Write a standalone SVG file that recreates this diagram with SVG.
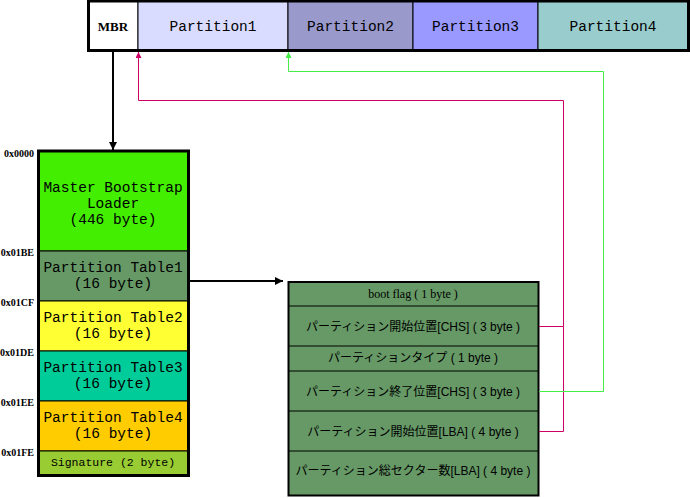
<svg xmlns="http://www.w3.org/2000/svg" width="690" height="498" viewBox="0 0 690 498">
<style>
.mono{font-family:"Liberation Mono","Courier New",monospace;font-size:14.5px;fill:#000;text-anchor:middle}
.sig{font-family:"Liberation Mono","Courier New",monospace;font-size:11.5px;fill:#000;text-anchor:middle}
.addr{font-family:"Liberation Serif","Times New Roman",serif;font-size:10px;font-weight:bold;fill:#000;text-anchor:end}
.jp{font-family:"Liberation Sans","Noto Sans CJK JP",sans-serif;font-size:12px;fill:#000;text-anchor:middle}
.cell{stroke:#000;stroke-width:1}
.out{fill:none;stroke:#000;stroke-width:3}
.pink{fill:none;stroke:#CC0066;stroke-width:1}
.green{fill:none;stroke:#44EE44;stroke-width:1}
</style>
<defs>
<marker id="ab" markerWidth="8" markerHeight="8" refX="8" refY="4" orient="auto" markerUnits="userSpaceOnUse"><path d="M0,0 L8,4 L0,8 Z" fill="#000"/></marker>
<marker id="ap" markerWidth="6" markerHeight="6" refX="6" refY="3" orient="auto" markerUnits="userSpaceOnUse"><path d="M0,0 L6,3 L0,6 Z" fill="#CC0066"/></marker>
<marker id="ag" markerWidth="6" markerHeight="6" refX="6" refY="3" orient="auto" markerUnits="userSpaceOnUse"><path d="M0,0 L6,3 L0,6 Z" fill="#44EE44"/></marker>
</defs>

<g id="disk">
<rect x="88" y="1" width="50" height="49" fill="#FFFFFF" class="cell"/>
<rect x="138" y="1" width="150" height="49" fill="#DADCFF" class="cell"/>
<rect x="288" y="1" width="125" height="49" fill="#9999CC" class="cell"/>
<rect x="413" y="1" width="125" height="49" fill="#9999FF" class="cell"/>
<rect x="538" y="1" width="150" height="49" fill="#99CCCC" class="cell"/>
<rect x="88.5" y="1" width="600" height="49.5" class="out"/>
<text x="113" y="31" font-family="Liberation Serif,Times New Roman,serif" font-size="13" font-weight="bold" text-anchor="middle">MBR</text>
<text class="mono" x="213" y="31">Partition1</text>
<text class="mono" x="350.5" y="31">Partition2</text>
<text class="mono" x="475.5" y="31">Partition3</text>
<text class="mono" x="613" y="31">Partition4</text>
</g>

<g id="mbr-stack">
<rect x="38" y="151" width="150" height="100" fill="#44EE00" class="cell"/>
<rect x="38" y="251" width="150" height="50" fill="#669966" class="cell"/>
<rect x="38" y="301" width="150" height="50" fill="#FFFF33" class="cell"/>
<rect x="38" y="351" width="150" height="50" fill="#00CC99" class="cell"/>
<rect x="38" y="401" width="150" height="50" fill="#FFCC00" class="cell"/>
<rect x="38" y="451" width="150" height="25" fill="#99CC33" class="cell"/>
<rect x="38.5" y="151" width="150" height="324.5" class="out"/>
<text class="mono" x="113" y="192">Master Bootstrap</text>
<text class="mono" x="113" y="208">Loader</text>
<text class="mono" x="113" y="224">(446 byte)</text>
<text class="mono" x="113" y="272">Partition Table1</text>
<text class="mono" x="113" y="288">(16 byte)</text>
<text class="mono" x="113" y="322">Partition Table2</text>
<text class="mono" x="113" y="338">(16 byte)</text>
<text class="mono" x="113" y="372">Partition Table3</text>
<text class="mono" x="113" y="388">(16 byte)</text>
<text class="mono" x="113" y="422">Partition Table4</text>
<text class="mono" x="113" y="438">(16 byte)</text>
<text class="sig" x="113" y="466">Signature (2 byte)</text>
<text class="addr" x="34" y="157">0x0000</text>
<text class="addr" x="34" y="256">0x01BE</text>
<text class="addr" x="34" y="306">0x01CF</text>
<text class="addr" x="34" y="356">0x01DE</text>
<text class="addr" x="34" y="406">0x01EE</text>
<text class="addr" x="34" y="456">0x01FE</text>
</g>

<g id="entry">
<rect x="288" y="282" width="250" height="214" fill="#669966" stroke="none"/>
<line x1="288" y1="306" x2="538" y2="306" stroke="#000"/>
<line x1="288" y1="346" x2="538" y2="346" stroke="#000"/>
<line x1="288" y1="371" x2="538" y2="371" stroke="#000"/>
<line x1="288" y1="411" x2="538" y2="411" stroke="#000"/>
<line x1="288" y1="451" x2="538" y2="451" stroke="#000"/>
<rect x="288.5" y="282" width="250" height="213.5" fill="none" stroke="#000" stroke-width="2"/>
<text x="413" y="298" font-family="Liberation Serif,Times New Roman,serif" font-size="12" text-anchor="middle">boot flag ( 1 byte )</text>
<text class="jp" x="413" y="331">パーティション開始位置[CHS] ( 3 byte )</text>
<text class="jp" x="413" y="362">パーティションタイプ ( 1 byte )</text>
<text class="jp" x="413" y="396">パーティション終了位置[CHS] ( 3 byte )</text>
<text class="jp" x="413" y="436">パーティション開始位置[LBA] ( 4 byte )</text>
<text class="jp" x="413" y="475">パーティション総セクター数[LBA] ( 4 byte )</text>
</g>

<g id="connectors">
<line x1="113" y1="51" x2="113" y2="150" stroke="#000" stroke-width="2" marker-end="url(#ab)"/>
<line x1="188" y1="281" x2="283" y2="281" stroke="#000" stroke-width="2" marker-end="url(#ab)"/>
<polyline class="pink" points="539,326.5 563.5,326.5 563.5,100.5 138.5,100.5 138.5,52" marker-end="url(#ap)"/>
<polyline class="pink" points="539,431.5 563.5,431.5 563.5,326.5"/>
<polyline class="green" points="539,391.5 603.5,391.5 603.5,71.5 288.5,71.5 288.5,52" marker-end="url(#ag)"/>
</g>
</svg>
